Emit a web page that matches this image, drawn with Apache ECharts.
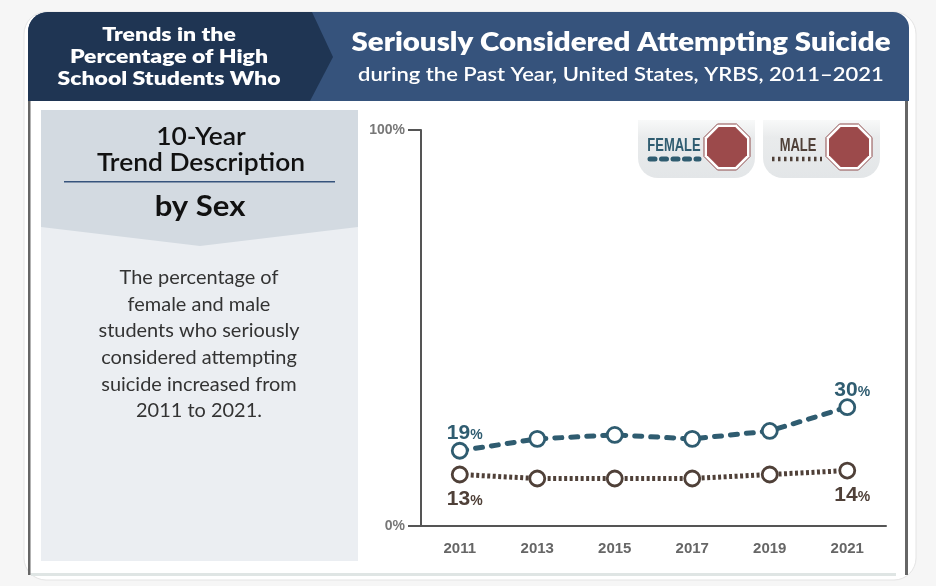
<!DOCTYPE html>
<html><head><meta charset="utf-8">
<style>html,body{margin:0;padding:0;background:#f6f6f6}#c{width:936px;height:586px}</style>
<script src="https://cdn.jsdelivr.net/npm/echarts@6/dist/echarts.min.js"></script>
</head><body><div id="c"></div>
<script>
const years = ['2011','2013','2015','2017','2019','2021'];
const female = [19,22,23,22,24,30];
const male = [13,12,12,12,13,14];
const labelledIndexes = [0,5];
const yTicks = [0,100];
const headLeft = ['Trends in the','Percentage of High','School Students Who'];
const headTitle = 'Seriously Considered Attempting Suicide';
const headSub = 'during the Past Year, United States, YRBS, 2011–2021';
const panelHead = ['10-Year','Trend Description'];
const panelBy = 'by Sex';
const panelBody = ['The percentage of','female and male','students who seriously','considered attempting','suicide increased from','2011 to 2021.'];

const F = '"Lato","Open Sans",sans-serif', N = '"Liberation Sans",sans-serif';
const FEM = '#2f5c70', MAL = '#4f4038', STOP = '#9c4a4b';
const txt = (x,y,text,size,weight,fill,font,sx) => ({type:'text',x,y,scaleX:sx||1,style:{text,fontSize:size,fontWeight:weight,fill,fontFamily:font||F,align:'center',verticalAlign:'middle'}});
const oct = (cx,cy,r,style) => {
  const k=0.4142*r, pts=[[-k,-r],[k,-r],[r,-k],[r,k],[k,r],[-k,r],[-r,k],[-r,-k]];
  return {type:'polygon',shape:{points:pts.map(p=>[cx+p[0],cy+p[1]])},style};
};
const legendBox = (x,w) => ({type:'rect',shape:{x,y:120,width:w,height:58,r:[0,0,20,20]},
  style:{fill:new echarts.graphic.LinearGradient(0,0,0,1,[{offset:0,color:'#f8f9f9'},{offset:0.3,color:'#e9ebec'},{offset:1,color:'#e3e6e8'}])}});
const stop = (cx) => [oct(cx,147,23,{fill:'#fff',stroke:'#8d4a4b',lineWidth:1}),oct(cx,147,20,{fill:STOP})];
const graphic = [
  {type:'rect',shape:{x:24,y:12,width:892,height:568,r:22},style:{fill:'#fff',stroke:'#e4e4e4',lineWidth:1}},
  {type:'rect',shape:{x:28,y:12,width:881,height:89,r:[20,16,0,0]},style:{fill:'#36537c'}},
  {type:'rect',shape:{x:28,y:12,width:270,height:89,r:[20,0,0,0]},style:{fill:'#1f3553'}},
  {type:'polygon',shape:{points:[[297,12],[312,12],[333,57],[310,101],[297,101]]},style:{fill:'#1f3553'}},
  {type:'rect',shape:{x:28,y:101,width:2.5,height:474},style:{fill:'#666'}},
  {type:'rect',shape:{x:905,y:101,width:3,height:474},style:{fill:'#666'}},
  {type:'rect',shape:{x:31,y:573,width:865,height:3},style:{fill:'#dfe5e4'}},
  {type:'rect',shape:{x:41,y:110,width:317,height:451},style:{fill:'#ebeef2'}},
  {type:'polygon',shape:{points:[[41,110],[358,110],[358,227],[200,246],[41,227]]},style:{fill:'#d3dae1'}},
  {type:'rect',shape:{x:64,y:181,width:271,height:1.5},style:{fill:'#36537c'}},
  ...headLeft.map((t,i)=>txt(169,35+i*22,t,19.5,800,'#fff',F,1.18)),
  txt(621,42,headTitle,27,800,'#fff',F,1.09),
  txt(621,75,headSub,20,600,'#fff',F,1.10),
  ...panelHead.map((t,i)=>txt(201,137+i*26,t,24,600,'#111',F,1.1)),
  txt(200,207,panelBy,28,700,'#111',F,1.11),
  ...panelBody.map((t,i)=>txt(199,278+i*26.6,t,19,400,'#333',F,1.05)),
  legendBox(638,117),legendBox(763,117),
  ...stop(727),...stop(849),
  txt(674,146,'FEMALE',18,700,FEM,N,0.72),
  txt(798,146,'MALE',18,700,MAL,N,0.72),
  {type:'line',shape:{x1:650,y1:159,x2:699,y2:159},style:{stroke:FEM,lineWidth:5,lineDash:[5,6.5],lineCap:'round'}},
  {type:'line',shape:{x1:772,y1:159,x2:822,y2:159},style:{stroke:MAL,lineWidth:4.5,lineDash:[2.5,3.5]}}
];
const lineSeries = (name,data,color,dash,cap,pos,dist,w) => ({
  name,type:'line',data,symbol:'circle',symbolSize:15,
  lineStyle:{color,width:w,type:dash,cap},
  itemStyle:{color:'#fff',borderColor:color,borderWidth:2.8},
  label:{show:true,position:pos,distance:dist,offset:[5,0],
    formatter:p=>labelledIndexes.includes(p.dataIndex)?`{n|${p.value}}{p|%}`:'',
    rich:{n:{fontFamily:N,fontWeight:700,fontSize:21,color},p:{fontFamily:N,fontWeight:700,fontSize:14,color,padding:[4,0,0,0]}}}
});
const chart = echarts.init(document.getElementById('c'));
chart.setOption({
  animation:false,
  backgroundColor:'#f6f6f6',
  graphic:{elements:graphic},
  grid:{left:421,right:50,top:130,bottom:60},
  xAxis:{type:'category',data:years,boundaryGap:true,
    axisLine:{lineStyle:{color:'#555',width:2}},
    axisTick:{alignWithLabel:true,length:8,lineStyle:{color:'#555',width:1.5}},
    axisLabel:{margin:15,fontFamily:N,fontWeight:700,fontSize:15,color:'#666'}},
  yAxis:{type:'value',min:0,max:100,interval:100,splitLine:{show:false},
    axisLine:{show:true,lineStyle:{color:'#555',width:2}},
    axisTick:{show:true,length:13,lineStyle:{color:'#555',width:2}},
    axisLabel:{margin:16,fontFamily:N,fontWeight:700,fontSize:14,color:'#777',
      formatter:v=>yTicks.includes(v)?v+'%':''}},
  series:[lineSeries('FEMALE',female,FEM,[7,9],'round','top',-2,5),lineSeries('MALE',male,MAL,[3,2.5],'butt','bottom',5,5)]
});
</script></body></html>
